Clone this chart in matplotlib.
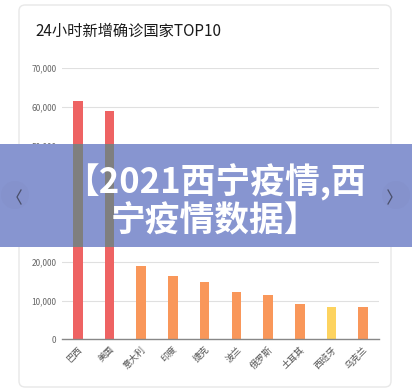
import matplotlib.pyplot as plt
from matplotlib.patches import FancyBboxPatch, Rectangle, Circle
from matplotlib.lines import Line2D

plt.rcParams['font.family'] = ['Noto Sans CJK SC', 'DejaVu Sans']

countries = ['巴西', '美国', '意大利', '印度', '捷克', '波兰', '俄罗斯', '土耳其', '西班牙', '乌克兰']
new_cases = [61500, 58900, 18900, 16400, 14800, 12100, 11400, 9200, 8300, 8250]
bar_colors = ['#ee6363', '#ee6363', '#f9975a', '#f9975a', '#f9975a',
              '#f9975a', '#f9975a', '#f9975a', '#fdd35f', '#f9975a']
yticks = [0, 10000, 20000, 30000, 40000, 50000, 60000, 70000]

fig = plt.figure(figsize=(4.12, 3.92), dpi=100)
fig.patch.set_facecolor('white')

# card
card = FancyBboxPatch((19/412, 5/392), 372/412, 382/392,
                      boxstyle='round,pad=0,rounding_size=0.015',
                      transform=fig.transFigure, facecolor='white',
                      edgecolor='#e8e8e8', linewidth=1.0, zorder=-5)
fig.patches.append(card)

fig.text(35/412, 1 - 31/392, '24小时新增确诊国家TOP10', fontsize=11,
         fontweight='medium', color='#1a1a1a', va='center', ha='left')

pos = [62/412, 1 - 339.3/392, 317/412, (339.3 - 68)/392]
ax = fig.add_axes(pos, zorder=1)
x = range(len(countries))
ax.bar(x, new_cases, width=0.3, color=bar_colors, zorder=3)
ax.set_ylim(0, 70000)
ax.set_xlim(-0.5, len(countries) - 0.5)
ax.set_yticks(yticks)
ax.set_yticklabels([f'{v:,}' for v in yticks], fontsize=6, color='#666666')
ax.set_xticks(list(x))
ax.set_xticklabels(countries, rotation=45, ha='right', rotation_mode='anchor',
                   fontsize=6.5, color='#555555')
ax.tick_params(axis='both', length=0, pad=4)
ax.grid(axis='y', color='#e0e0e0', linewidth=0.8, zorder=0)
for s in ['top', 'right', 'left']:
    ax.spines[s].set_visible(False)
ax.spines['bottom'].set_color('#888888')
ax.spines['bottom'].set_linewidth(1.0)
ax.spines['bottom'].set_zorder(4)
ax.set_facecolor('none')

# banner overlay
by0, by1 = 1 - 247/392, 1 - 144/392
banner = Rectangle((0, by0), 1, by1 - by0, transform=fig.transFigure,
                   facecolor='#8795d0', edgecolor='none', zorder=5)
fig.patches.append(banner)

# bars seen through the banner
ax2 = fig.add_axes(pos, zorder=6)
ax2.set_ylim(0, 70000)
ax2.set_xlim(-0.5, len(countries) - 0.5)
ax2.axis('off')
clip = Rectangle((0, by0), 1, by1 - by0, transform=fig.transFigure,
                 facecolor='none', edgecolor='none')
gray = ax2.bar(x, new_cases, width=0.3, color='#7f7f7f')
for b in gray:
    b.set_clip_path(clip)

# carousel arrows
for cx in [15, 396]:
    fig.patches.append(Circle((cx, 197), 14, transform=None,
                              facecolor='#8592cc', edgecolor='none', zorder=7))
for cx, d in [(17/412, 1), (392/412, -1)]:
    xs = [cx + d * 4/412, cx, cx + d * 4/412]
    ys = [1 - 190/392, 1 - 197/392, 1 - 204/392]
    fig.lines.append(Line2D(xs, ys, transform=fig.transFigure,
                            color='#4a4f6a', linewidth=0.9, zorder=8))

fig.text(0.522, 1 - 182/392, '【2021西宁疫情,西', fontsize=25, fontweight='bold',
         color='white', ha='center', va='center', zorder=9)
fig.text(0.522, 1 - 221/392, '宁疫情数据】', fontsize=25, fontweight='bold',
         color='white', ha='center', va='center', zorder=9)

fig.savefig('out.png', dpi=100)
